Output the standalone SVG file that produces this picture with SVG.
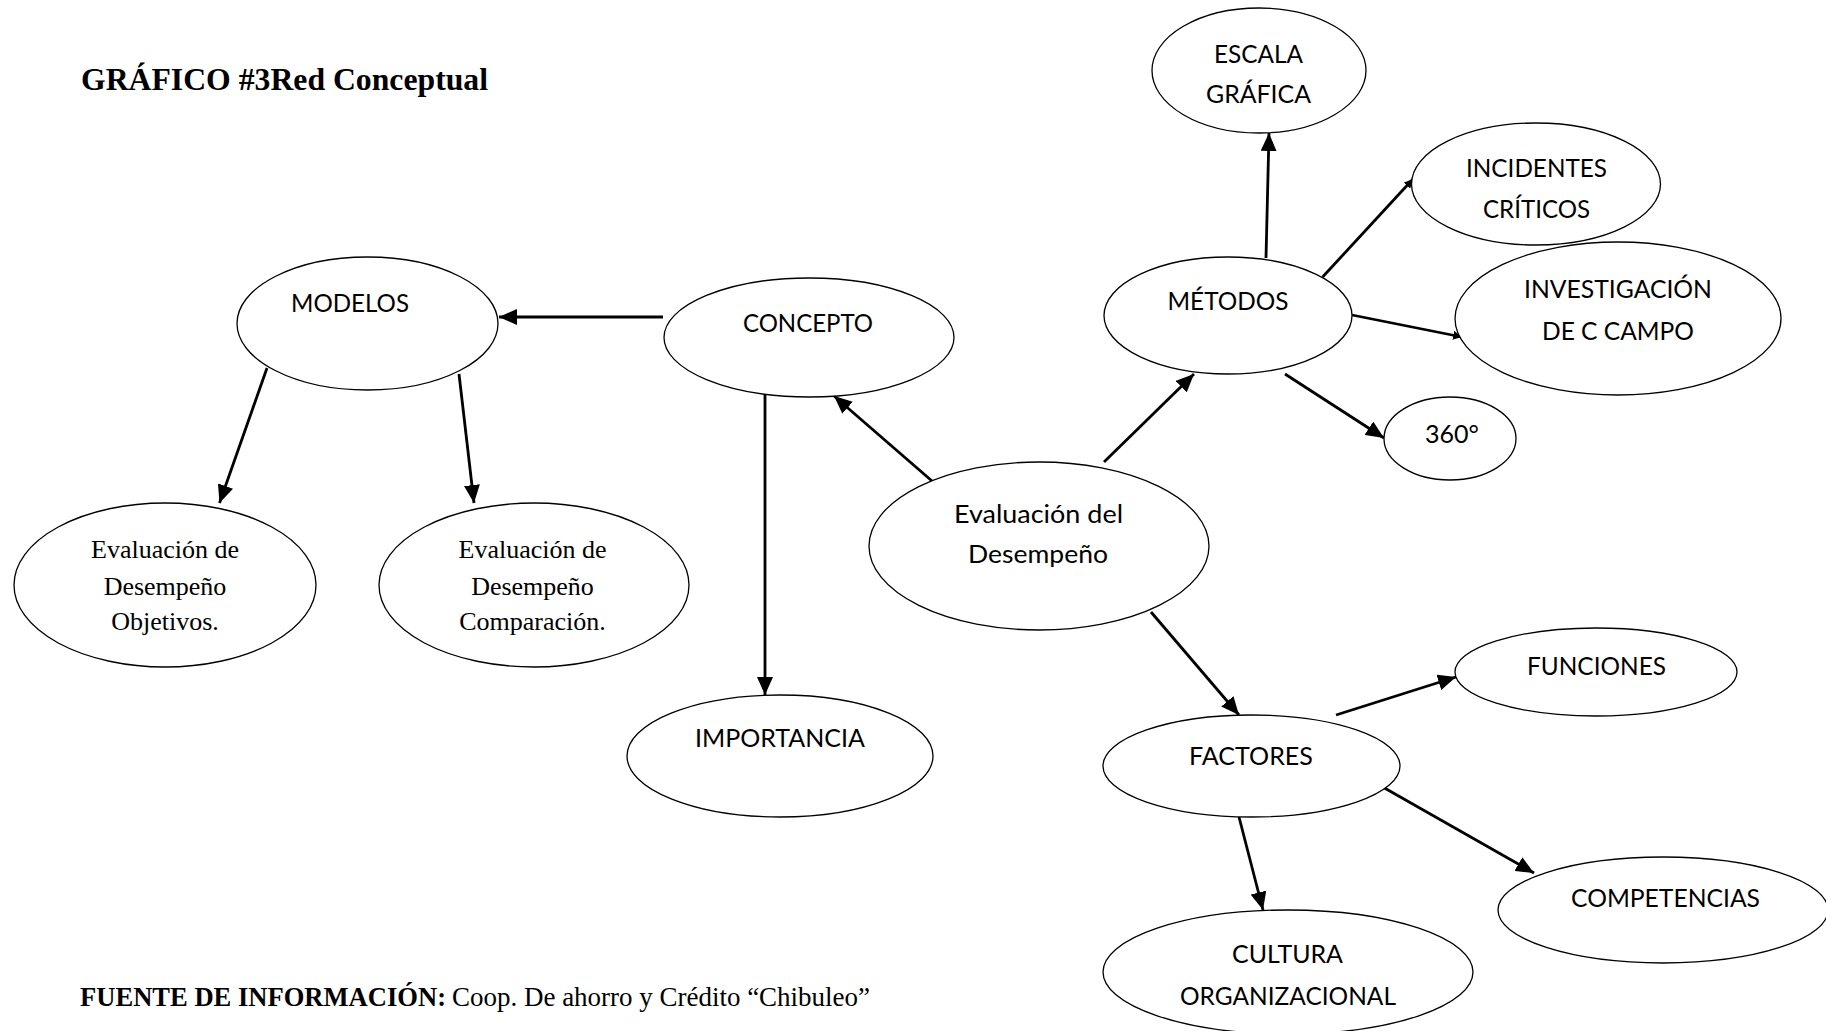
<svg xmlns="http://www.w3.org/2000/svg" width="1826" height="1031" viewBox="0 0 1826 1031">
<style>
.n{fill:#fff;stroke:#000;stroke-width:1.3}
.s{font-family:Lato,"Open Sans","Liberation Sans",sans-serif;font-size:25px;fill:#000;text-anchor:middle}
.t{font-family:"Liberation Serif","Times New Roman",serif;font-size:26px;fill:#000;text-anchor:middle}
.c line{stroke:#000;stroke-width:2.8;marker-end:url(#ah)}
.c line.sm{marker-end:url(#ahs)}
</style>
<defs>
<marker id="ah" markerUnits="userSpaceOnUse" markerWidth="18" markerHeight="16" refX="18" refY="8" orient="auto"><path d="M0,0 L18,8 L0,16 z" fill="#000"/></marker>
<marker id="ahs" markerUnits="userSpaceOnUse" markerWidth="9" markerHeight="9" refX="9" refY="4.5" orient="auto"><path d="M0,0 L9,4.5 L0,9 z" fill="#000"/></marker>
</defs>
<rect width="1826" height="1031" fill="#fff"/>
<text x="81" y="90" font-family="'Liberation Serif','Times New Roman',serif" font-weight="bold" font-size="32" textLength="407" lengthAdjust="spacingAndGlyphs">GRÁFICO #3Red Conceptual</text>
<g id="connectors" class="c">
<line x1="663" y1="317" x2="499" y2="317"/>
<line x1="267" y1="368" x2="219.5" y2="503"/>
<line x1="459" y1="374" x2="474" y2="503"/>
<line x1="765" y1="395" x2="765" y2="695"/>
<line x1="932" y1="481" x2="834" y2="396"/>
<line x1="1104" y1="462" x2="1194" y2="374"/>
<line x1="1151" y1="612" x2="1239" y2="715"/>
<line x1="1266" y1="258" x2="1269" y2="133"/>
<line class="sm" x1="1322.6" y1="277" x2="1413" y2="179"/>
<line class="sm" x1="1352" y1="315" x2="1462" y2="337"/>
<line x1="1285" y1="374" x2="1384" y2="438"/>
<line x1="1336" y1="715" x2="1456" y2="677"/>
<line x1="1384.5" y1="788" x2="1534" y2="873"/>
<line x1="1239" y1="817" x2="1263" y2="910"/>
</g>
<g id="modelos"><ellipse class="n" cx="367.5" cy="323.5" rx="130.5" ry="66.5"/><text class="s" x="350" y="312" textLength="118" lengthAdjust="spacingAndGlyphs">MODELOS</text></g>
<g id="concepto"><ellipse class="n" cx="809" cy="337.5" rx="145" ry="59.5"/><text class="s" x="808" y="332" textLength="130" lengthAdjust="spacingAndGlyphs">CONCEPTO</text></g>
<g id="escala"><ellipse class="n" cx="1259" cy="70.5" rx="107" ry="62.5"/><text class="s" x="1258.5" y="63" textLength="89" lengthAdjust="spacingAndGlyphs">ESCALA</text><text class="s" x="1258.5" y="103" textLength="105" lengthAdjust="spacingAndGlyphs">GRÁFICA</text></g>
<g id="metodos"><ellipse class="n" cx="1228" cy="315.5" rx="124" ry="58.5"/><text class="s" x="1228" y="310" textLength="121" lengthAdjust="spacingAndGlyphs">MÉTODOS</text></g>
<g id="incidentes"><ellipse class="n" cx="1536" cy="184" rx="124.5" ry="61"/><text class="s" x="1536.5" y="177" textLength="141" lengthAdjust="spacingAndGlyphs">INCIDENTES</text><text class="s" x="1536.5" y="218" textLength="107" lengthAdjust="spacingAndGlyphs">CRÍTICOS</text></g>
<g id="investigacion"><ellipse class="n" cx="1618" cy="318.5" rx="163" ry="76.5"/><text class="s" x="1618" y="298" textLength="188" lengthAdjust="spacingAndGlyphs">INVESTIGACIÓN</text><text class="s" x="1618" y="340" textLength="152" lengthAdjust="spacingAndGlyphs">DE C CAMPO</text></g>
<g id="n360"><ellipse class="n" cx="1450" cy="438.5" rx="66" ry="41.5"/><text class="s" x="1452" y="443" textLength="54" lengthAdjust="spacingAndGlyphs">360°</text></g>
<g id="evaluacion"><ellipse class="n" cx="1039" cy="546" rx="170" ry="84"/><text class="s" x="1038.5" y="523" textLength="169" lengthAdjust="spacingAndGlyphs">Evaluación del</text><text class="s" x="1038" y="563" textLength="140" lengthAdjust="spacingAndGlyphs">Desempeño</text></g>
<g id="importancia"><ellipse class="n" cx="780" cy="756" rx="153" ry="61"/><text class="s" x="780" y="747" textLength="170" lengthAdjust="spacingAndGlyphs">IMPORTANCIA</text></g>
<g id="eval-objetivos"><ellipse class="n" cx="165" cy="585" rx="151" ry="82"/><text class="t" x="165" y="558">Evaluación de</text><text class="t" x="165" y="595">Desempeño</text><text class="t" x="165" y="630">Objetivos.</text></g>
<g id="eval-comparacion"><ellipse class="n" cx="534" cy="585" rx="155" ry="82"/><text class="t" x="532.5" y="558">Evaluación de</text><text class="t" x="532.5" y="595">Desempeño</text><text class="t" x="532.5" y="630">Comparación.</text></g>
<g id="factores"><ellipse class="n" cx="1251.5" cy="766" rx="148.5" ry="51"/><text class="s" x="1251" y="765" textLength="124" lengthAdjust="spacingAndGlyphs">FACTORES</text></g>
<g id="funciones"><ellipse class="n" cx="1596" cy="672" rx="141" ry="44"/><text class="s" x="1596.5" y="675" textLength="139" lengthAdjust="spacingAndGlyphs">FUNCIONES</text></g>
<g id="competencias"><ellipse class="n" cx="1663" cy="910" rx="165" ry="53"/><text class="s" x="1665.5" y="907" textLength="189" lengthAdjust="spacingAndGlyphs">COMPETENCIAS</text></g>
<g id="cultura"><ellipse class="n" cx="1288" cy="972" rx="185" ry="62"/><text class="s" x="1287.5" y="963" textLength="111" lengthAdjust="spacingAndGlyphs">CULTURA</text><text class="s" x="1288" y="1005" textLength="216" lengthAdjust="spacingAndGlyphs">ORGANIZACIONAL</text></g>
<text x="80" y="1006" font-family="'Liberation Serif','Times New Roman',serif" font-weight="bold" font-size="27" textLength="366" lengthAdjust="spacingAndGlyphs">FUENTE DE INFORMACIÓN:</text>
<text x="452" y="1006" font-family="'Liberation Serif','Times New Roman',serif" font-size="27" textLength="418" lengthAdjust="spacingAndGlyphs">Coop. De ahorro y Crédito “Chibuleo”</text>
</svg>
